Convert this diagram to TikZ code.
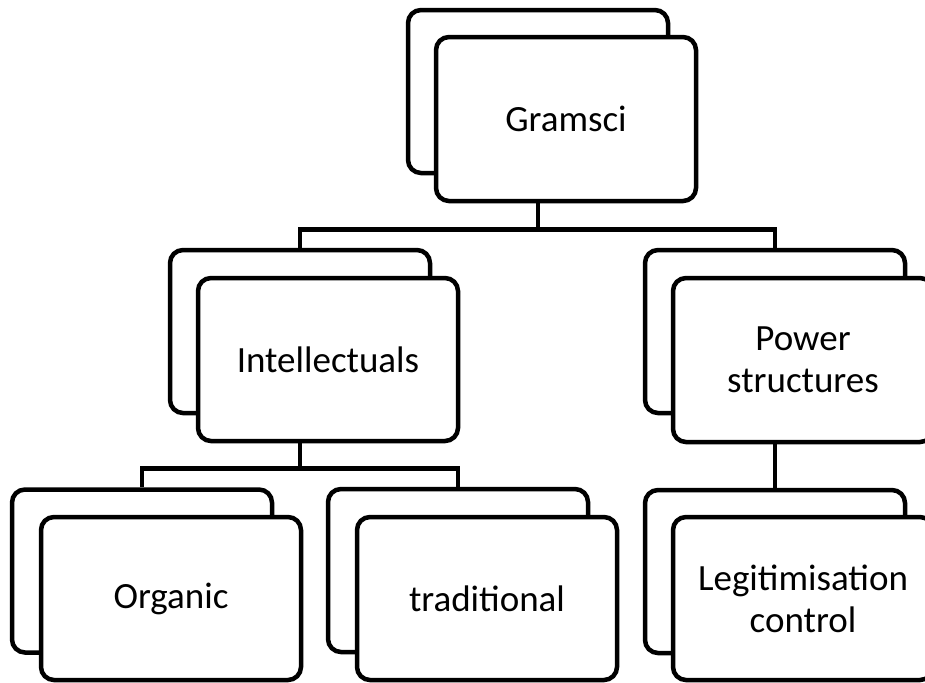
\documentclass[tikz,border=0pt]{standalone}
\usepackage{fontspec}
\setmainfont{Carlito}
\usepackage{tikz}

\begin{document}
\begin{tikzpicture}[x=0.5pt,y=-0.5pt,
  box/.style={draw,line width=2.25pt,rounded corners=6.5pt,fill=white,align=center,inner sep=0pt,
    minimum width=130pt,minimum height=81.5pt,font=\fontsize{18.5}{21}\selectfont},
  backbox/.style={box},
  conn/.style={draw,line width=2.25pt}]
\path[use as bounding box,fill=white] (0,0) rectangle (925,682);
% top
\node[backbox] (gramsciback) at (538,91.5) {};
\node[box,minimum height=82pt] (gramsci) at (566,119) {Gramsci};
% middle row
\node[backbox] (intelback) at (300,331.5) {};
\node[box] (intel) at (328,359.5) {Intellectuals};
\node[backbox] (powerback) at (775,331.5) {};
\node[box,minimum height=82pt] (power) at (803,360) {Power\\structures};
% bottom row
\node[backbox] (organicback) at (142,571) {};
\node[box] (organic) at (171,598.5) {Organic};
\node[backbox] (tradback) at (458,570.5) {};
\node[box] (trad) at (487,598.5) {traditional};
\node[backbox] (legitback) at (775,571.5) {};
\node[box] (legit) at (803,598.5) {Legitimisation\\control};
% connectors
\draw[conn] (gramsciback.north |- gramsci.south) -- ++(0,26) -| (intelback.north);
\draw[conn] (gramsciback.north |- gramsci.south) -- ++(0,26) -| (powerback.north);
\draw[conn] (intelback.north |- intel.south) -- ++(0,25) -| (organicback.north);
\draw[conn] (intelback.north |- intel.south) -- ++(0,25) -| (tradback.north);
\draw[conn] (powerback.north |- power.south) -- (legitback.north);
\end{tikzpicture}
\end{document}
